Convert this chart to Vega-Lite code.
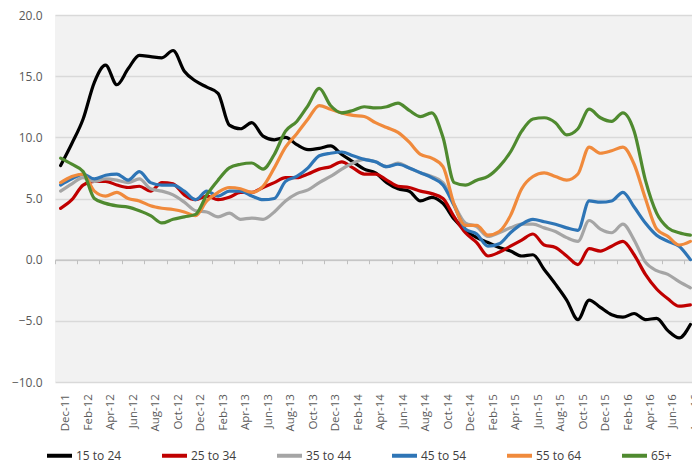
{
  "$schema": "https://vega.github.io/schema/vega-lite/v6.json",
  "width": 637,
  "height": 367,
  "autosize": {"type": "none"},
  "padding": {"left": 55, "top": 15, "right": 0, "bottom": 81},
  "background": "#ffffff",
  "config": {
    "font": "Open Sans",
    "view": {"fill": "#f2f2f2", "stroke": null}
  },
  "data": {
    "values": [
      {"m": "Dec-11", "15 to 24": 7.7, "25 to 34": 4.2, "35 to 44": 5.6, "45 to 54": 6.1, "55 to 64": 6.3, "65+": 8.3},
      {"m": "Jan-12", "15 to 24": 9.5, "25 to 34": 4.9, "35 to 44": 6.2, "45 to 54": 6.6, "55 to 64": 6.8, "65+": 7.8},
      {"m": "Feb-12", "15 to 24": 11.5, "25 to 34": 6.1, "35 to 44": 6.7, "45 to 54": 7.0, "55 to 64": 7.0, "65+": 7.2},
      {"m": "Mar-12", "15 to 24": 14.5, "25 to 34": 6.4, "35 to 44": 6.4, "45 to 54": 6.6, "55 to 64": 5.6, "65+": 5.0},
      {"m": "Apr-12", "15 to 24": 15.9, "25 to 34": 6.4, "35 to 44": 6.6, "45 to 54": 6.9, "55 to 64": 5.2, "65+": 4.6},
      {"m": "May-12", "15 to 24": 14.3, "25 to 34": 6.1, "35 to 44": 6.5, "45 to 54": 7.0, "55 to 64": 5.5, "65+": 4.4},
      {"m": "Jun-12", "15 to 24": 15.6, "25 to 34": 5.9, "35 to 44": 6.3, "45 to 54": 6.5, "55 to 64": 5.0, "65+": 4.3},
      {"m": "Jul-12", "15 to 24": 16.7, "25 to 34": 6.0, "35 to 44": 6.6, "45 to 54": 7.2, "55 to 64": 4.8, "65+": 4.0},
      {"m": "Aug-12", "15 to 24": 16.6, "25 to 34": 5.6, "35 to 44": 5.8, "45 to 54": 6.3, "55 to 64": 4.4, "65+": 3.6},
      {"m": "Sep-12", "15 to 24": 16.5, "25 to 34": 6.3, "35 to 44": 5.6, "45 to 54": 6.1, "55 to 64": 4.2, "65+": 3.0},
      {"m": "Oct-12", "15 to 24": 17.1, "25 to 34": 6.2, "35 to 44": 5.3, "45 to 54": 6.1, "55 to 64": 4.1, "65+": 3.3},
      {"m": "Nov-12", "15 to 24": 15.4, "25 to 34": 5.3, "35 to 44": 4.7, "45 to 54": 5.6, "55 to 64": 3.9, "65+": 3.5},
      {"m": "Dec-12", "15 to 24": 14.6, "25 to 34": 4.9, "35 to 44": 4.0, "45 to 54": 4.9, "55 to 64": 3.6, "65+": 3.7},
      {"m": "Jan-13", "15 to 24": 14.1, "25 to 34": 5.2, "35 to 44": 3.9, "45 to 54": 5.6, "55 to 64": 4.8, "65+": 5.3},
      {"m": "Feb-13", "15 to 24": 13.6, "25 to 34": 4.9, "35 to 44": 3.5, "45 to 54": 5.2, "55 to 64": 5.5, "65+": 6.5},
      {"m": "Mar-13", "15 to 24": 11.0, "25 to 34": 5.1, "35 to 44": 3.8, "45 to 54": 5.6, "55 to 64": 5.9, "65+": 7.5},
      {"m": "Apr-13", "15 to 24": 10.7, "25 to 34": 5.5, "35 to 44": 3.3, "45 to 54": 5.6, "55 to 64": 5.8, "65+": 7.8},
      {"m": "May-13", "15 to 24": 11.2, "25 to 34": 5.5, "35 to 44": 3.4, "45 to 54": 5.2, "55 to 64": 5.5, "65+": 7.9},
      {"m": "Jun-13", "15 to 24": 10.1, "25 to 34": 5.9, "35 to 44": 3.3, "45 to 54": 4.9, "55 to 64": 6.0, "65+": 7.4},
      {"m": "Jul-13", "15 to 24": 9.8, "25 to 34": 6.3, "35 to 44": 3.9, "45 to 54": 5.0, "55 to 64": 7.5, "65+": 8.6},
      {"m": "Aug-13", "15 to 24": 10.0, "25 to 34": 6.7, "35 to 44": 4.8, "45 to 54": 6.4, "55 to 64": 9.2, "65+": 10.5},
      {"m": "Sep-13", "15 to 24": 9.4, "25 to 34": 6.7, "35 to 44": 5.4, "45 to 54": 6.8, "55 to 64": 10.3, "65+": 11.3},
      {"m": "Oct-13", "15 to 24": 9.0, "25 to 34": 7.0, "35 to 44": 5.7, "45 to 54": 7.5, "55 to 64": 11.5, "65+": 12.6},
      {"m": "Nov-13", "15 to 24": 9.1, "25 to 34": 7.4, "35 to 44": 6.3, "45 to 54": 8.5, "55 to 64": 12.6, "65+": 14.0},
      {"m": "Dec-13", "15 to 24": 9.3, "25 to 34": 7.6, "35 to 44": 6.8, "45 to 54": 8.7, "55 to 64": 12.3, "65+": 12.6},
      {"m": "Jan-14", "15 to 24": 8.6, "25 to 34": 8.0, "35 to 44": 7.4, "45 to 54": 8.8, "55 to 64": 12.0, "65+": 12.0},
      {"m": "Feb-14", "15 to 24": 8.0, "25 to 34": 7.5, "35 to 44": 7.9, "45 to 54": 8.5, "55 to 64": 11.8, "65+": 12.2},
      {"m": "Mar-14", "15 to 24": 7.4, "25 to 34": 7.0, "35 to 44": 8.2, "45 to 54": 8.2, "55 to 64": 11.7, "65+": 12.5},
      {"m": "Apr-14", "15 to 24": 7.1, "25 to 34": 7.0, "35 to 44": 8.0, "45 to 54": 8.0, "55 to 64": 11.2, "65+": 12.4},
      {"m": "May-14", "15 to 24": 6.3, "25 to 34": 6.5, "35 to 44": 7.6, "45 to 54": 7.6, "55 to 64": 10.8, "65+": 12.5},
      {"m": "Jun-14", "15 to 24": 5.8, "25 to 34": 6.0, "35 to 44": 7.9, "45 to 54": 7.8, "55 to 64": 10.4, "65+": 12.8},
      {"m": "Jul-14", "15 to 24": 5.6, "25 to 34": 5.9, "35 to 44": 7.5, "45 to 54": 7.5, "55 to 64": 9.6, "65+": 12.2},
      {"m": "Aug-14", "15 to 24": 4.8, "25 to 34": 5.6, "35 to 44": 7.1, "45 to 54": 7.1, "55 to 64": 8.6, "65+": 11.7},
      {"m": "Sep-14", "15 to 24": 5.1, "25 to 34": 5.4, "35 to 44": 6.8, "45 to 54": 6.7, "55 to 64": 8.3, "65+": 12.0},
      {"m": "Oct-14", "15 to 24": 4.6, "25 to 34": 5.0, "35 to 44": 6.3, "45 to 54": 6.1, "55 to 64": 7.6, "65+": 10.0},
      {"m": "Nov-14", "15 to 24": 3.3, "25 to 34": 3.5, "35 to 44": 4.5, "45 to 54": 4.4, "55 to 64": 4.5, "65+": 6.3},
      {"m": "Dec-14", "15 to 24": 2.4, "25 to 34": 2.2, "35 to 44": 3.0, "45 to 54": 2.5, "55 to 64": 2.8, "65+": 6.1},
      {"m": "Jan-15", "15 to 24": 1.8, "25 to 34": 1.4, "35 to 44": 2.7, "45 to 54": 2.1, "55 to 64": 2.8, "65+": 6.5},
      {"m": "Feb-15", "15 to 24": 1.4, "25 to 34": 0.3, "35 to 44": 1.9, "45 to 54": 1.1, "55 to 64": 2.0, "65+": 6.8},
      {"m": "Mar-15", "15 to 24": 1.0, "25 to 34": 0.6, "35 to 44": 2.2, "45 to 54": 1.3, "55 to 64": 2.3, "65+": 7.6},
      {"m": "Apr-15", "15 to 24": 0.7, "25 to 34": 1.1, "35 to 44": 2.6, "45 to 54": 2.2, "55 to 64": 3.6, "65+": 8.8},
      {"m": "May-15", "15 to 24": 0.3, "25 to 34": 1.6, "35 to 44": 2.9, "45 to 54": 2.9, "55 to 64": 5.8, "65+": 10.5},
      {"m": "Jun-15", "15 to 24": 0.4, "25 to 34": 2.1, "35 to 44": 2.9, "45 to 54": 3.3, "55 to 64": 6.8, "65+": 11.5},
      {"m": "Jul-15", "15 to 24": -0.8, "25 to 34": 1.2, "35 to 44": 2.6, "45 to 54": 3.1, "55 to 64": 7.1, "65+": 11.6},
      {"m": "Aug-15", "15 to 24": -2.0, "25 to 34": 1.0, "35 to 44": 2.3, "45 to 54": 2.9, "55 to 64": 6.8, "65+": 11.2},
      {"m": "Sep-15", "15 to 24": -3.3, "25 to 34": 0.3, "35 to 44": 1.8, "45 to 54": 2.6, "55 to 64": 6.5, "65+": 10.2},
      {"m": "Oct-15", "15 to 24": -4.9, "25 to 34": -0.4, "35 to 44": 1.5, "45 to 54": 2.4, "55 to 64": 7.0, "65+": 10.7},
      {"m": "Nov-15", "15 to 24": -3.3, "25 to 34": 0.9, "35 to 44": 3.2, "45 to 54": 4.8, "55 to 64": 9.2, "65+": 12.3},
      {"m": "Dec-15", "15 to 24": -3.9, "25 to 34": 0.7, "35 to 44": 2.5, "45 to 54": 4.7, "55 to 64": 8.7, "65+": 11.6},
      {"m": "Jan-16", "15 to 24": -4.5, "25 to 34": 1.1, "35 to 44": 2.2, "45 to 54": 4.8, "55 to 64": 8.9, "65+": 11.3},
      {"m": "Feb-16", "15 to 24": -4.7, "25 to 34": 1.5, "35 to 44": 2.9, "45 to 54": 5.5, "55 to 64": 9.2, "65+": 12.0},
      {"m": "Mar-16", "15 to 24": -4.4, "25 to 34": 0.4, "35 to 44": 1.6, "45 to 54": 4.3, "55 to 64": 7.8, "65+": 10.5},
      {"m": "Apr-16", "15 to 24": -4.9, "25 to 34": -1.2, "35 to 44": -0.2, "45 to 54": 3.0, "55 to 64": 5.0, "65+": 6.5},
      {"m": "May-16", "15 to 24": -4.8, "25 to 34": -2.4, "35 to 44": -0.9, "45 to 54": 2.0, "55 to 64": 2.5, "65+": 3.8},
      {"m": "Jun-16", "15 to 24": -5.8, "25 to 34": -3.2, "35 to 44": -1.2, "45 to 54": 1.5, "55 to 64": 1.9, "65+": 2.6},
      {"m": "Jul-16", "15 to 24": -6.4, "25 to 34": -3.8, "35 to 44": -1.8, "45 to 54": 1.1, "55 to 64": 1.2, "65+": 2.2},
      {"m": "Aug-16", "15 to 24": -5.3, "25 to 34": -3.7, "35 to 44": -2.3, "45 to 54": 0.0, "55 to 64": 1.5, "65+": 2.0}
    ]
  },
  "transform": [
    {"fold": ["15 to 24", "25 to 34", "35 to 44", "45 to 54", "55 to 64", "65+"], "as": ["group", "value"]}
  ],
  "mark": {"type": "line", "interpolate": "monotone", "strokeWidth": 3.2, "strokeCap": "round", "strokeJoin": "round"},
  "encoding": {
    "x": {
      "field": "m",
      "type": "ordinal",
      "sort": null,
      "bandPosition": 0.5,
      "scale": {"type": "band", "paddingInner": 0, "paddingOuter": 0, "range": [0, 641]},
      "axis": {
        "title": null,
        "values": ["Dec-11", "Feb-12", "Apr-12", "Jun-12", "Aug-12", "Oct-12", "Dec-12", "Feb-13", "Apr-13", "Jun-13", "Aug-13", "Oct-13", "Dec-13", "Feb-14", "Apr-14", "Jun-14", "Aug-14", "Oct-14", "Dec-14", "Feb-15", "Apr-15", "Jun-15", "Aug-15", "Oct-15", "Dec-15", "Feb-16", "Apr-16", "Jun-16", "Aug-16"],
        "offset": -122.3,
        "domain": true,
        "domainColor": "#bfbfbf",
        "domainWidth": 1.2,
        "ticks": true,
        "tickColor": "#bfbfbf",
        "tickSize": 4,
        "tickWidth": 1,
        "bandPosition": 0,
        "labelOffset": 5.6,
        "labelPadding": 130,
        "labelAngle": -90,
        "labelAlign": "right",
        "labelBaseline": "middle",
        "labelFontSize": 11.5,
        "labelColor": "#595959",
        "labelOverlap": false,
        "grid": false
      }
    },
    "y": {
      "field": "value",
      "type": "quantitative",
      "scale": {"domain": [-10, 20], "nice": false, "zero": false},
      "axis": {
        "title": null,
        "values": [-10, -5, 0, 5, 10, 15, 20],
        "format": ".1f",
        "domain": false,
        "ticks": false,
        "grid": true,
        "gridColor": "#d9d9d9",
        "gridWidth": 1.5,
        "labelFontSize": 12,
        "labelColor": "#595959",
        "labelPadding": 13
      }
    },
    "color": {
      "field": "group",
      "type": "nominal",
      "scale": {
        "domain": ["15 to 24", "25 to 34", "35 to 44", "45 to 54", "55 to 64", "65+"],
        "range": ["#000000", "#c00000", "#a5a5a5", "#2e75b6", "#f08a3c", "#4f8a2f"]
      },
      "legend": {
        "title": null,
        "orient": "none",
        "legendX": -10,
        "legendY": 426,
        "direction": "horizontal",
        "columns": 6,
        "gridAlign": "all",
        "columnPadding": 32,
        "symbolType": "stroke",
        "symbolSize": 625,
        "symbolStrokeWidth": 4,
        "labelOffset": 2,
        "labelFontSize": 12,
        "labelColor": "#404040"
      }
    }
  }
}
